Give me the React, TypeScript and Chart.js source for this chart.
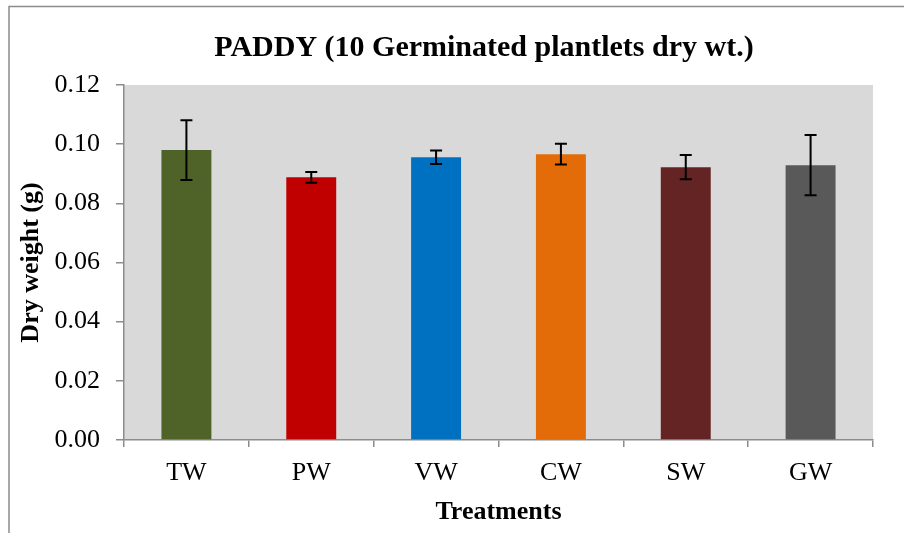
import React, { useEffect, useRef } from "react";
import { Chart, registerables } from "chart.js";

Chart.register(...registerables);

const categories = ["TW", "PW", "VW", "CW", "SW", "GW"];
const dryWeight = [0.098, 0.0888, 0.0956, 0.0966, 0.0922, 0.0929];
const errors = [0.0101, 0.0018, 0.0023, 0.0035, 0.0041, 0.0102];
const barColors = ["#4F6228", "#C00000", "#0070C0", "#E36C09", "#632423", "#595959"];
const chartTitle = "PADDY (10 Germinated plantlets dry wt.)";
const yTitle = "Dry weight (g)";
const xTitle = "Treatments";

const SERIF = "'Liberation Serif', 'Times New Roman', serif";

const backgroundPlugin = {
  id: "bgAndBorder",
  beforeDraw(chart: any) {
    const { ctx, chartArea } = chart;
    ctx.save();
    ctx.fillStyle = "#ffffff";
    ctx.fillRect(0, 0, chart.width, chart.height);
    ctx.strokeStyle = "#8c8c8c";
    ctx.lineWidth = 1.5;
    ctx.strokeRect(9, 6.5, chart.width + 20, chart.height + 20);
    ctx.fillStyle = "#D9D9D9";
    ctx.fillRect(chartArea.left, chartArea.top, chartArea.right - chartArea.left, chartArea.bottom - chartArea.top);
    ctx.restore();
  },
  afterDraw(chart: any) {
    const { ctx } = chart;
    ctx.save();
    ctx.fillStyle = "#000";
    ctx.font = `bold 30px ${SERIF}`;
    ctx.textAlign = "center";
    ctx.textBaseline = "alphabetic";
    ctx.fillText(chartTitle, 484, 56);
    ctx.restore();
  },
};

const errorBarPlugin = {
  id: "errorBars",
  afterDatasetsDraw(chart: any) {
    const { ctx } = chart;
    const meta = chart.getDatasetMeta(0);
    const yScale = chart.scales.y;
    ctx.save();
    ctx.strokeStyle = "#000";
    ctx.lineWidth = 2;
    meta.data.forEach((bar: any, i: number) => {
      const x = bar.x;
      const top = yScale.getPixelForValue(dryWeight[i] + errors[i]);
      const bot = yScale.getPixelForValue(dryWeight[i] - errors[i]);
      const cap = 6;
      ctx.beginPath();
      ctx.moveTo(x, top);
      ctx.lineTo(x, bot);
      ctx.moveTo(x - cap, top);
      ctx.lineTo(x + cap, top);
      ctx.moveTo(x - cap, bot);
      ctx.lineTo(x + cap, bot);
      ctx.stroke();
    });
    ctx.restore();
  },
};

export default function App() {
  const ref = useRef<HTMLCanvasElement | null>(null);

  useEffect(() => {
    if (!ref.current) return;
    Chart.defaults.font.family = SERIF;
    const chart = new Chart(ref.current, {
      type: "bar",
      data: {
        labels: categories,
        datasets: [
          {
            label: "Dry weight",
            data: dryWeight,
            backgroundColor: barColors,
            borderWidth: 0,
            barPercentage: 0.4,
            categoryPercentage: 1.0,
          },
        ],
      },
      options: {
        responsive: false,
        animation: false,
        devicePixelRatio: 1,
        layout: { padding: { top: 85, right: 31, left: 0, bottom: 0 } },
        plugins: {
          legend: { display: false },
          tooltip: { enabled: false },
          title: { display: false },
        },
        scales: {
          x: {
            type: "category",
            offset: true,
            afterFit: (scale: any) => {
              scale.height = 93;
            },
            grid: {
              offset: true,
              drawOnChartArea: false,
              drawTicks: true,
              tickLength: 7,
              color: "#8c8c8c",
              lineWidth: 1.5,
            },
            border: { display: true, color: "#8c8c8c", width: 1.5 },
            ticks: {
              color: "#000",
              font: { size: 26, family: SERIF },
              padding: 11,
              maxRotation: 0,
            },
            title: {
              display: true,
              text: xTitle,
              color: "#000",
              font: { size: 26, weight: "bold", family: SERIF },
              padding: { top: 0, bottom: 5 },
            },
          },
          y: {
            min: 0,
            max: 0.12,
            afterFit: (scale: any) => {
              scale.width = 124;
            },
            ticks: {
              stepSize: 0.02,
              color: "#000",
              font: { size: 26, family: SERIF },
              padding: 16,
              callback: (v: any) => Number(v).toFixed(2),
            },
            grid: {
              drawOnChartArea: false,
              drawTicks: true,
              tickLength: 8,
              color: "#8c8c8c",
              lineWidth: 1.5,
            },
            border: { display: true, color: "#8c8c8c", width: 1.5 },
            title: {
              display: true,
              text: yTitle,
              color: "#000",
              font: { size: 26, weight: "bold", family: SERIF },
              padding: { top: 16, bottom: 0 },
            },
          },
        },
      },
      plugins: [backgroundPlugin, errorBarPlugin],
    });
    return () => chart.destroy();
  }, []);

  return (
    <div style={{ position: "absolute", left: 0, top: 0, width: 904, height: 533 }}>
      <canvas ref={ref} width={904} height={533} style={{ display: "block" }} />
    </div>
  );
}
